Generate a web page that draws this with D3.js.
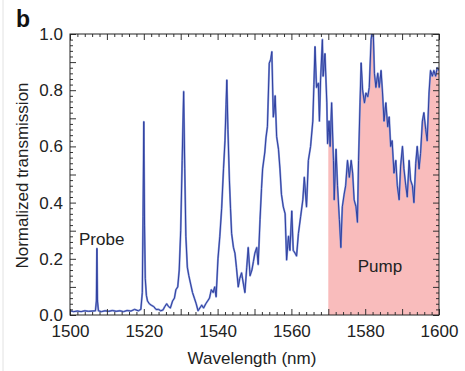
<!DOCTYPE html>
<html>
<head>
<meta charset="utf-8">
<script src="https://cdn.jsdelivr.net/npm/d3@7"></script>
<style>
  body { margin: 0; background: #fff; }
  svg { font-family: "Liberation Sans", Arial, sans-serif; }
</style>
</head>
<body>
<div class="chart"></div>
<script>
// transmission spectrum
const wavelength = [
  1500.0, 1501.0, 1502.0, 1503.0, 1504.0, 1505.0, 1506.0, 1506.9, 1507.15, 1507.3,
  1507.45, 1507.7, 1508.5, 1509.5, 1510.5, 1511.5, 1512.5, 1513.5, 1514.5, 1515.5,
  1516.5, 1517.5, 1518.5, 1519.2, 1519.6, 1519.8, 1520.0, 1520.2, 1520.4, 1520.7,
  1521.0, 1521.5, 1522.0, 1522.7, 1523.3, 1524.0, 1524.6, 1525.2, 1525.7, 1526.2,
  1526.7, 1527.2, 1527.8, 1528.3, 1528.7, 1529.2, 1529.6, 1530.0, 1530.4, 1530.8,
  1531.1, 1531.4, 1531.8, 1532.2, 1532.7, 1533.2, 1533.7, 1534.2, 1534.7, 1535.2,
  1535.7, 1536.2, 1536.8, 1537.3, 1537.8, 1538.3, 1538.8, 1539.2, 1539.6, 1540.1,
  1540.6, 1541.1, 1541.6, 1542.0, 1542.3, 1542.5, 1542.8, 1543.2, 1543.5, 1543.8,
  1544.3, 1544.7, 1545.1, 1545.6, 1546.0, 1546.5, 1547.0, 1547.4, 1547.9, 1548.3,
  1548.8, 1549.3, 1549.7, 1550.1, 1550.6, 1551.0, 1551.5, 1551.9, 1552.2, 1552.8,
  1553.1, 1553.5, 1554.0, 1554.4, 1554.7, 1555.1, 1555.4, 1555.6, 1556.0, 1556.5,
  1556.9, 1557.3, 1557.8, 1558.3, 1558.7, 1559.2, 1559.6, 1560.1, 1560.5, 1561.0,
  1561.4, 1561.9, 1562.5, 1563.1, 1563.5, 1564.1, 1564.6, 1565.2, 1565.8, 1566.1,
  1566.4, 1566.8, 1567.3, 1567.6, 1567.9, 1568.4, 1568.6, 1569.1, 1569.6, 1569.8,
  1570.0, 1570.2, 1570.5, 1570.9, 1571.4, 1571.6, 1572.1, 1572.5, 1573.0, 1573.4,
  1573.8, 1574.3, 1574.7, 1575.2, 1575.7, 1576.2, 1576.6, 1577.0, 1577.5, 1577.9,
  1578.2, 1578.6, 1578.9, 1579.3, 1579.8, 1580.2, 1580.7, 1581.1, 1581.6, 1581.8,
  1582.2, 1582.5, 1582.9, 1583.4, 1583.8, 1584.3, 1584.7, 1585.1, 1585.6, 1586.1,
  1586.5, 1586.9, 1587.3, 1587.8, 1588.3, 1588.7, 1589.2, 1589.6, 1590.1, 1590.5,
  1591.0, 1591.4, 1591.9, 1592.3, 1592.8, 1593.2, 1593.7, 1594.1, 1594.6, 1595.0,
  1595.5, 1595.9, 1596.4, 1596.8, 1597.3, 1597.7, 1598.2, 1598.6, 1599.1, 1599.5,
  1600.0
];
const transmission = [
  0.015, 0.012, 0.014, 0.012, 0.015, 0.013, 0.014, 0.015, 0.05, 0.237,
  0.05, 0.015, 0.012, 0.015, 0.013, 0.016, 0.013, 0.015, 0.012, 0.016,
  0.014, 0.02, 0.015, 0.02, 0.08, 0.35, 0.688, 0.32, 0.13, 0.07,
  0.05, 0.04, 0.035, 0.03, 0.02, 0.02, 0.015, 0.018, 0.03, 0.04,
  0.03, 0.025, 0.05, 0.06, 0.09, 0.10, 0.16, 0.3, 0.55, 0.795,
  0.52, 0.28, 0.17, 0.14, 0.11, 0.08, 0.06, 0.04, 0.015, 0.025,
  0.035, 0.025, 0.04, 0.05, 0.06, 0.09, 0.08, 0.10, 0.065, 0.2,
  0.28, 0.38, 0.52, 0.62, 0.75, 0.836, 0.66, 0.48, 0.38, 0.29,
  0.24, 0.22, 0.17, 0.10, 0.13, 0.15, 0.11, 0.08, 0.17, 0.24,
  0.14, 0.16, 0.19, 0.22, 0.24, 0.18, 0.34, 0.45, 0.52, 0.58,
  0.63, 0.67, 0.896, 0.91, 0.937, 0.705, 0.74, 0.78, 0.635, 0.59,
  0.52, 0.43, 0.385, 0.36, 0.196, 0.28, 0.23, 0.37, 0.23, 0.22,
  0.21, 0.29, 0.35, 0.41, 0.49, 0.385, 0.55, 0.60, 0.69, 0.82,
  0.955, 0.81, 0.825, 0.69, 0.836, 0.98, 0.85, 0.93, 0.755, 0.61,
  0.65, 0.69, 0.60, 0.755, 0.55, 0.41, 0.59, 0.46, 0.34, 0.24,
  0.385, 0.43, 0.46, 0.55, 0.49, 0.55, 0.505, 0.41, 0.385, 0.33,
  0.55, 0.755, 0.897, 0.80, 0.755, 0.79, 0.777, 0.81, 0.98, 1.0,
  1.0, 0.86, 0.81, 0.86, 0.81, 0.87, 0.79, 0.69, 0.755, 0.67,
  0.705, 0.60, 0.62, 0.505, 0.55, 0.46, 0.41, 0.53, 0.60, 0.52,
  0.46, 0.42, 0.55, 0.48, 0.46, 0.40, 0.54, 0.60, 0.52, 0.575,
  0.69, 0.72, 0.66, 0.62, 0.79, 0.87, 0.85, 0.87, 0.85, 0.88,
  0.87
];
const pumpRange = [1570, 1600];
const xTickLabels = [1500, 1520, 1540, 1560, 1580, 1600];
const yTickLabels = [0.0, 0.2, 0.4, 0.6, 0.8, 1.0];

const data = wavelength.map((w, i) => ({w: w, t: transmission[i]}));

const svg = d3.select(".chart").append("svg")
              .attr("width", 465)
              .attr("height", 371);

// faint panel border on the left
svg.append("line")
   .attr("x1", 3).attr("x2", 3).attr("y1", 0).attr("y2", 371)
   .attr("stroke", "#e2e2e2");

const mLeft = 70, mTop = 34, pw = 369, ph = 281;
const g = svg.append("g").attr("transform", `translate(${mLeft},${mTop})`);

const x = d3.scaleLinear().domain([1500, 1600]).range([0, pw]);
const y = d3.scaleLinear().domain([0, 1]).range([ph, 0]);

g.append("clipPath").attr("id", "plotclip")
 .append("rect").attr("width", pw).attr("height", ph);

// pump area under the curve
const pumpData = data.filter(d => d.w >= pumpRange[0] && d.w <= pumpRange[1]);
g.append("path")
 .datum(pumpData)
 .attr("clip-path", "url(#plotclip)")
 .attr("fill", "#f9bcbc")
 .attr("d", d3.area().x(d => x(d.w)).y0(y(0)).y1(d => y(d.t)));

const line = d3.line().x(d => x(d.w)).y(d => y(d.t));
g.append("path")
 .datum(data)
 .attr("clip-path", "url(#plotclip)")
 .attr("fill", "none")
 .attr("stroke", "#8a9ad8")
 .attr("stroke-width", 2)
 .attr("stroke-linejoin", "round")
 .attr("d", line);
g.append("path")
 .datum(data)
 .attr("clip-path", "url(#plotclip)")
 .attr("fill", "none")
 .attr("stroke", "#2f40a0")
 .attr("stroke-width", 1)
 .attr("stroke-linejoin", "round")
 .attr("d", line);

// ticks (inward, mirrored on all sides)
const xMinor = d3.range(1500, 1601, 2).filter(v => v % 10 != 0);
const xMajor = d3.range(1500, 1601, 10);
const yMinor = d3.range(0, 51).map(v => v / 50).filter((v, i) => i % 5 != 0);
const yMajor = d3.range(0, 11).map(v => v / 10);

function tickAxis(axis, vals, len, tf){
  const a = g.append("g").attr("transform", tf)
             .call(axis.tickValues(vals).tickSizeInner(-len).tickSizeOuter(0).tickFormat(""));
  a.select(".domain").remove();
  a.selectAll("line").attr("stroke", "#333");
}
tickAxis(d3.axisBottom(x), xMinor, 3, `translate(0,${ph})`);
tickAxis(d3.axisBottom(x), xMajor, 6, `translate(0,${ph})`);
tickAxis(d3.axisTop(x), xMinor, 3, "translate(0,0)");
tickAxis(d3.axisTop(x), xMajor, 6, "translate(0,0)");
tickAxis(d3.axisLeft(y), yMinor, 3, "translate(0,0)");
tickAxis(d3.axisLeft(y), yMajor, 6, "translate(0,0)");
tickAxis(d3.axisRight(y), yMinor, 3, `translate(${pw},0)`);
tickAxis(d3.axisRight(y), yMajor, 6, `translate(${pw},0)`);

// labelled axes
const xAxis = g.append("g").attr("transform", `translate(0,${ph})`)
               .call(d3.axisBottom(x).tickValues(xTickLabels).tickSize(0).tickPadding(10).tickFormat(d3.format("d")));
const yAxis = g.append("g")
               .call(d3.axisLeft(y).tickValues(yTickLabels).tickSize(0).tickPadding(7).tickFormat(d3.format(".1f")));
[xAxis, yAxis].forEach(a => {
  a.select(".domain").remove();
  a.selectAll("text").attr("font-size", 17).attr("fill", "#222")
   .attr("font-family", "'Liberation Sans', Arial, sans-serif");
});

g.append("rect")
 .attr("width", pw).attr("height", ph)
 .attr("fill", "none").attr("stroke", "#222").attr("stroke-width", 1);

// labels
svg.append("text").attr("x", 252).attr("y", 364)
   .attr("text-anchor", "middle").attr("font-size", 17).attr("fill", "#222")
   .text("Wavelength (nm)");
svg.append("text")
   .attr("transform", "translate(28,175.5) rotate(-90)")
   .attr("text-anchor", "middle").attr("font-size", 17).attr("fill", "#222")
   .text("Normalized transmission");
svg.append("text").attr("x", 16).attr("y", 27)
   .attr("font-size", 23).attr("font-weight", "bold").attr("fill", "#111")
   .text("b");
svg.append("text").attr("x", 79).attr("y", 245)
   .attr("font-size", 17).attr("fill", "#222")
   .text("Probe");
svg.append("text").attr("x", 380).attr("y", 272)
   .attr("text-anchor", "middle").attr("font-size", 17).attr("fill", "#222")
   .text("Pump");
</script>
</body>
</html>
